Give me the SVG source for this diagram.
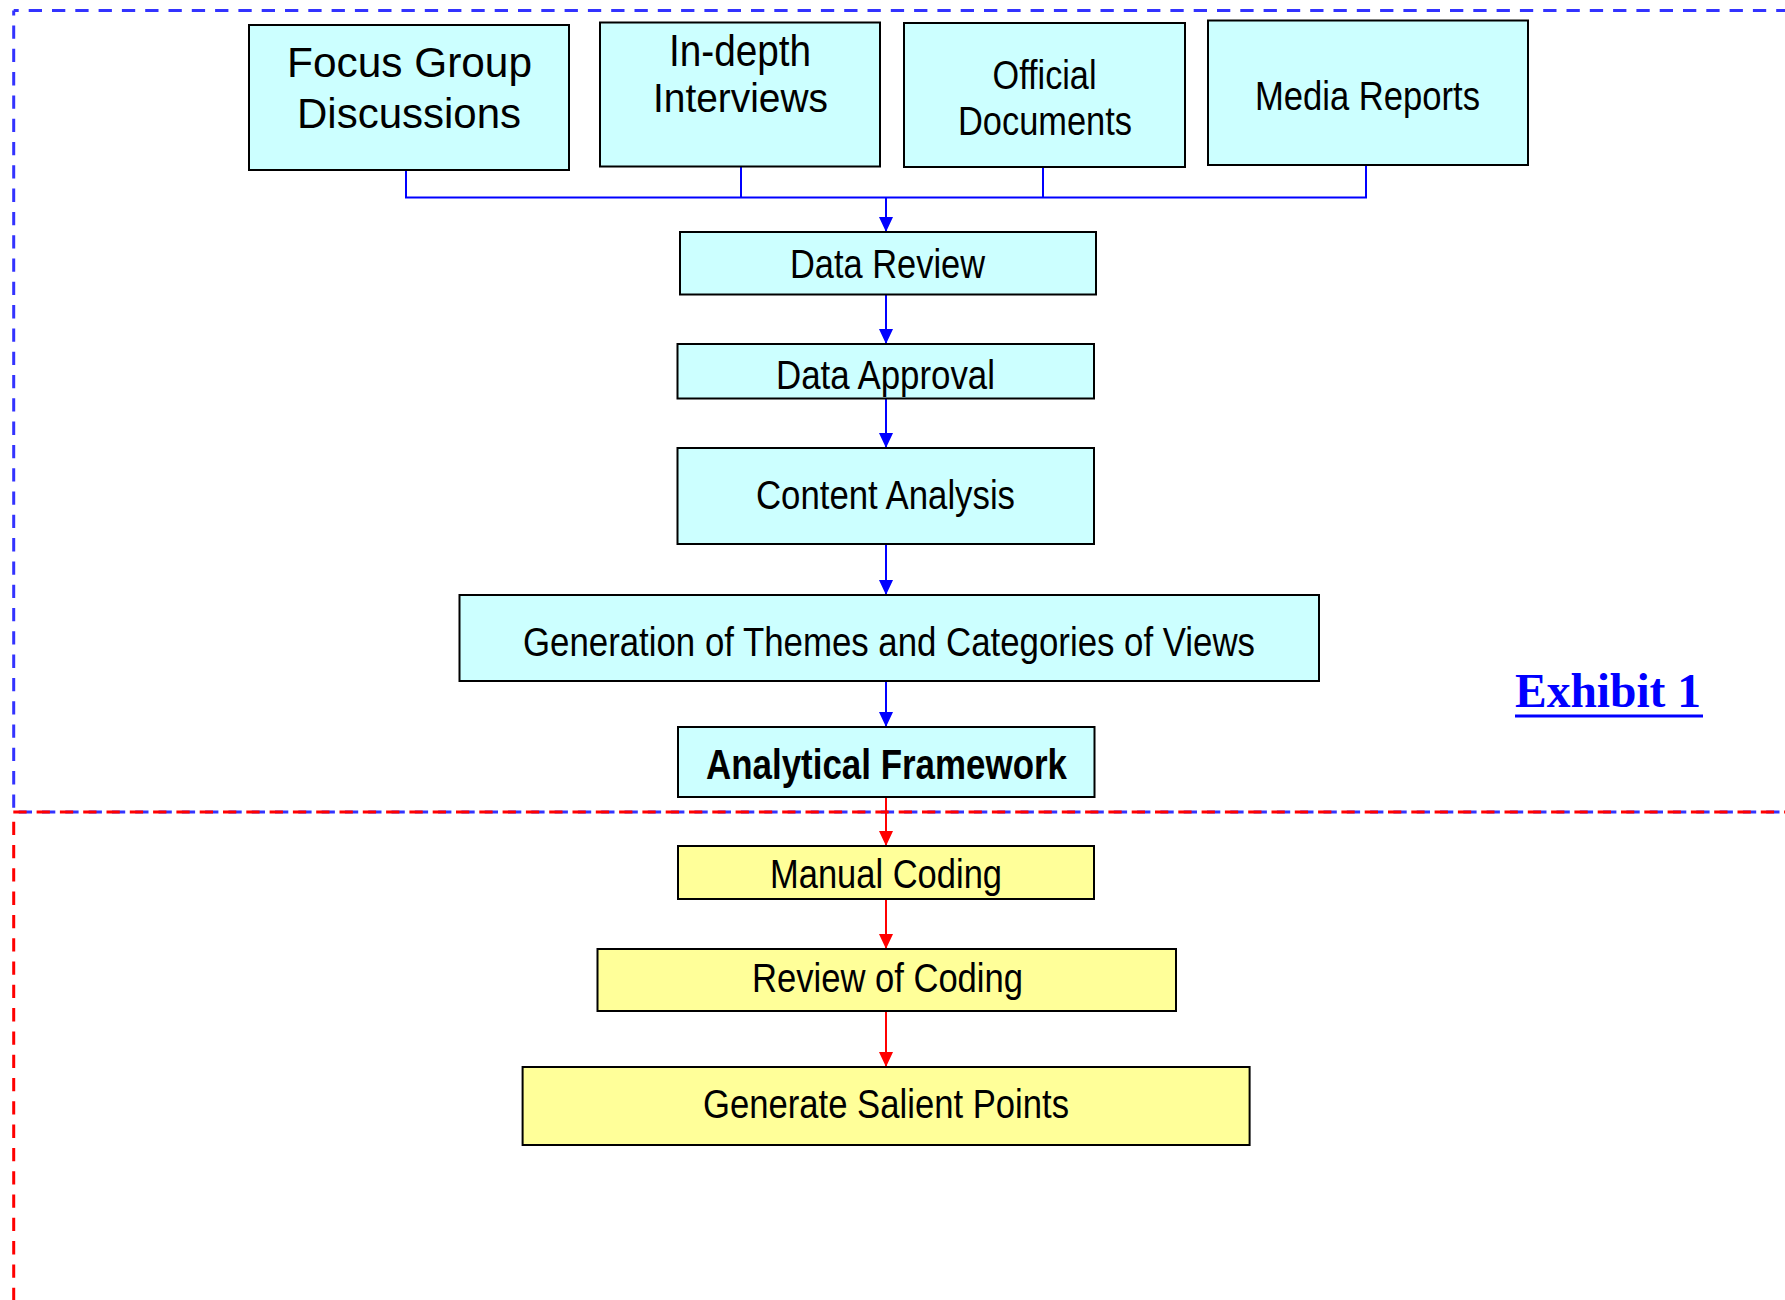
<svg xmlns="http://www.w3.org/2000/svg" width="1785" height="1300" viewBox="0 0 1785 1300">
<style>
.box{stroke:#000;stroke-width:2}
.cy{fill:#CCFFFF}
.ye{fill:#FFFF99}
.t{font-family:"Liberation Sans",Arial,sans-serif;fill:#000;text-anchor:middle}
.b{stroke:#0000FF;stroke-width:2;fill:none}
.r{stroke:#FF0000;stroke-width:2;fill:none}
.fb{fill:none;stroke:#3333FF;stroke-width:3;stroke-dasharray:13.3 10}
.fr{fill:none;stroke:#FF0000;stroke-width:3;stroke-dasharray:13.3 10}
</style>
<defs>
<marker id="ab" viewBox="0 0 15 14" refX="15" refY="7" markerWidth="15" markerHeight="14" orient="auto" markerUnits="userSpaceOnUse"><path d="M0 0 L15 7 L0 14 z" fill="#0000FF"/></marker>
<marker id="ar" viewBox="0 0 15 14" refX="15" refY="7" markerWidth="15" markerHeight="14" orient="auto" markerUnits="userSpaceOnUse"><path d="M0 0 L15 7 L0 14 z" fill="#FF0000"/></marker>
</defs>
<rect width="1785" height="1300" fill="#fff"/>
<g id="frames">
<path class="fb" d="M13.7 10.5 H1785" stroke-dashoffset="8.3"/>
<path class="fb" d="M13.7 10.5 V812" stroke-dashoffset="8.3"/>
<path class="fb" d="M18.7 812 H1785"/>
<path class="fr" d="M13.3 812 H1785"/>
<path class="fr" d="M13.7 812 V1300" stroke-dashoffset="13.6"/>
</g>
<g id="connectors">
<path class="b" d="M406 166 V197.5 H1366 V165 M741 166 V197.5 M1043 167 V197.5"/>
<path class="b" d="M886 197.5 V232" marker-end="url(#ab)"/>
<path class="b" d="M886 295 V344" marker-end="url(#ab)"/>
<path class="b" d="M886 386 V448" marker-end="url(#ab)"/>
<path class="b" d="M886 544 V595" marker-end="url(#ab)"/>
<path class="b" d="M886 681 V727" marker-end="url(#ab)"/>
<path class="r" d="M886 797 V846" marker-end="url(#ar)"/>
<path class="r" d="M886 899 V949" marker-end="url(#ar)"/>
<path class="r" d="M886 1011 V1067" marker-end="url(#ar)"/>
</g>
<g id="focus-group">
<rect class="box cy" x="249" y="25" width="320" height="145"/>
<text class="t" x="409.5" y="76.7" font-size="42" textLength="245" lengthAdjust="spacingAndGlyphs">Focus Group</text>
<text class="t" x="409" y="127.7" font-size="42" textLength="224" lengthAdjust="spacingAndGlyphs">Discussions</text>
</g>
<g id="in-depth">
<rect class="box cy" x="600" y="22.5" width="280" height="144"/>
<text class="t" x="740" y="66" font-size="45" textLength="142" lengthAdjust="spacingAndGlyphs">In-depth</text>
<text class="t" x="740.5" y="111.5" font-size="40" textLength="175" lengthAdjust="spacingAndGlyphs">Interviews</text>
</g>
<g id="official">
<rect class="box cy" x="904" y="23" width="281" height="144"/>
<text class="t" x="1044.5" y="89.3" font-size="40" textLength="104" lengthAdjust="spacingAndGlyphs">Official</text>
<text class="t" x="1045" y="135" font-size="40" textLength="174" lengthAdjust="spacingAndGlyphs">Documents</text>
</g>
<g id="media">
<rect class="box cy" x="1208" y="20.5" width="320" height="144.5"/>
<text class="t" x="1367.5" y="110" font-size="41" textLength="225" lengthAdjust="spacingAndGlyphs">Media Reports</text>
</g>
<g id="data-review">
<rect class="box cy" x="680" y="232" width="416" height="62.5"/>
<text class="t" x="887.5" y="278" font-size="41" textLength="195" lengthAdjust="spacingAndGlyphs">Data Review</text>
</g>
<g id="data-approval">
<rect class="box cy" x="677.5" y="344" width="416.5" height="54.5"/>
<text class="t" x="885.5" y="389" font-size="41" textLength="219" lengthAdjust="spacingAndGlyphs">Data Approval</text>
</g>
<g id="content-analysis">
<rect class="box cy" x="677.5" y="448" width="416.5" height="96"/>
<text class="t" x="885.5" y="509" font-size="41" textLength="259" lengthAdjust="spacingAndGlyphs">Content Analysis</text>
</g>
<g id="themes">
<rect class="box cy" x="459.5" y="595" width="859.5" height="86"/>
<text class="t" x="889" y="656" font-size="41" textLength="732" lengthAdjust="spacingAndGlyphs">Generation of Themes and Categories of Views</text>
</g>
<g id="framework">
<rect class="box cy" x="678" y="727" width="416.5" height="70"/>
<text class="t" x="886.5" y="779" font-size="42" font-weight="bold" textLength="361" lengthAdjust="spacingAndGlyphs">Analytical Framework</text>
</g>
<g id="manual-coding">
<rect class="box ye" x="678" y="846" width="416" height="53"/>
<text class="t" x="886" y="888" font-size="41" textLength="232" lengthAdjust="spacingAndGlyphs">Manual Coding</text>
</g>
<g id="review-coding">
<rect class="box ye" x="597.5" y="949" width="578.5" height="62"/>
<text class="t" x="887.5" y="991.7" font-size="41" textLength="271" lengthAdjust="spacingAndGlyphs">Review of Coding</text>
</g>
<g id="salient">
<rect class="box ye" x="522.6" y="1067" width="727" height="78"/>
<text class="t" x="886" y="1118" font-size="41" textLength="366" lengthAdjust="spacingAndGlyphs">Generate Salient Points</text>
</g>
<g id="exhibit">
<text x="1515" y="706.7" font-family="'Liberation Serif','Times New Roman',serif" font-weight="bold" font-size="48" fill="#0000FF" textLength="186" lengthAdjust="spacingAndGlyphs">Exhibit 1</text>
<rect x="1515" y="714.5" width="188" height="3" fill="#0000FF"/>
</g>
</svg>
